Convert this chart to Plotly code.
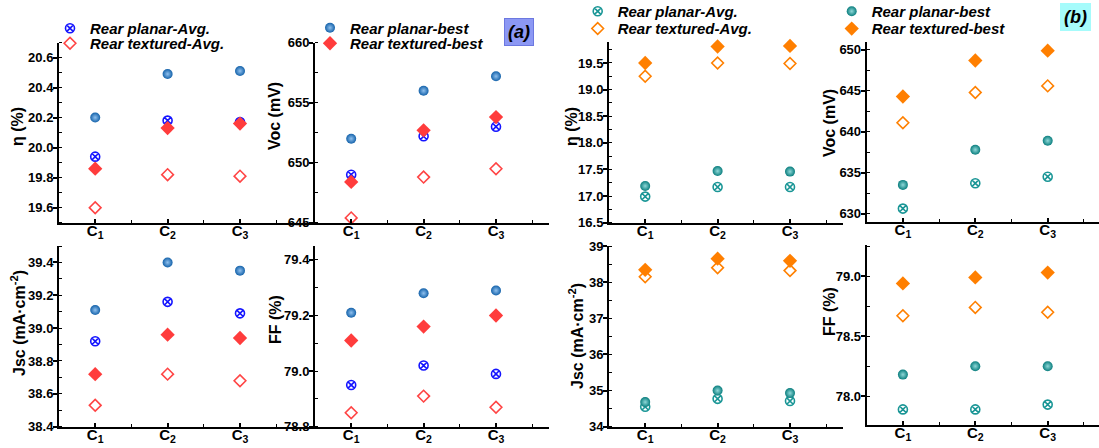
import plotly.graph_objects as go

# ---------------- data ----------------
categories = ["C<sub>1</sub>", "C<sub>2</sub>", "C<sub>3</sub>"]
series_names = ["Rear planar-Avg.", "Rear textured-Avg.", "Rear planar-best", "Rear textured-best"]

# panel (a)
a_eta_planar_avg = [19.94, 20.18, 20.17]
a_eta_textured_avg = [19.60, 19.82, 19.81]
a_eta_planar_best = [20.20, 20.49, 20.51]
a_eta_textured_best = [19.86, 20.13, 20.16]

a_voc_planar_avg = [649.0, 652.2, 653.0]
a_voc_textured_avg = [645.4, 648.8, 649.5]
a_voc_planar_best = [652.0, 656.0, 657.2]
a_voc_textured_best = [648.4, 652.7, 653.8]

a_jsc_planar_avg = [38.92, 39.16, 39.09]
a_jsc_textured_avg = [38.53, 38.72, 38.68]
a_jsc_planar_best = [39.11, 39.40, 39.35]
a_jsc_textured_best = [38.72, 38.96, 38.94]

a_ff_planar_avg = [78.95, 79.02, 78.99]
a_ff_textured_avg = [78.85, 78.91, 78.87]
a_ff_planar_best = [79.21, 79.28, 79.29]
a_ff_textured_best = [79.11, 79.16, 79.20]

# panel (b)
b_eta_planar_avg = [16.99, 17.17, 17.17]
b_eta_textured_avg = [19.25, 19.50, 19.49]
b_eta_planar_best = [17.19, 17.47, 17.46]
b_eta_textured_best = [19.50, 19.81, 19.82]

b_voc_planar_avg = [630.6, 633.7, 634.5]
b_voc_textured_avg = [641.1, 644.8, 645.6]
b_voc_planar_best = [633.5, 637.8, 638.9]
b_voc_textured_best = [644.3, 648.7, 649.9]

b_jsc_planar_avg = [34.55, 34.77, 34.71]
b_jsc_textured_avg = [38.15, 38.40, 38.32]
b_jsc_planar_best = [34.68, 35.00, 34.93]
b_jsc_textured_best = [38.34, 38.65, 38.59]

b_ff_planar_avg = [77.89, 77.89, 77.93]
b_ff_textured_avg = [78.67, 78.74, 78.70]
b_ff_planar_best = [78.18, 78.25, 78.25]
b_ff_textured_best = [78.94, 78.99, 79.03]

# ---------------- layout helpers ----------------
W, H = 1099, 448
FONT = "Arial, Liberation Sans, sans-serif"
CAT_PX = 72.4


def fx(p):
    return p / W


def fy(p):
    return 1 - p / H


x_pos = list(range(1, len(categories) + 1))

styles = {
    "a": [
        dict(symbol="circle-x-open", size=9, color="#1414ff", line=dict(width=1.6, color="#1414ff")),
        dict(symbol="diamond-open", size=9, color="#ff4444", line=dict(width=1.6, color="#ff4444")),
        dict(symbol="circle", size=10, color="#1462aa", line=dict(width=0),
             gradient=dict(type="radial", color="#8fc0ee")),
        dict(symbol="diamond", size=11, color="#ff3c3c", line=dict(width=0)),
    ],
    "b": [
        dict(symbol="circle-x-open", size=9, color="#1a9696", line=dict(width=1.6, color="#1a9696")),
        dict(symbol="diamond-open", size=9, color="#ff8000", line=dict(width=1.6, color="#ff8000")),
        dict(symbol="circle", size=10, color="#0a7e7e", line=dict(width=0),
             gradient=dict(type="radial", color="#8fd8d8")),
        dict(symbol="diamond", size=11, color="#ff7f00", line=dict(width=0)),
    ],
}

# group, x-domain px, y-domain px (top, bottom), yrange, dtick, tick0, minor, fmt, title, title pos px, series
panels = [
    ("a", (59, 315), (42.5, 222.7), (19.5, 20.7), 0.2, 19.6, 0.1, ".1f", "η (%)", (18, 127),
     [a_eta_planar_avg, a_eta_textured_avg, a_eta_planar_best, a_eta_textured_best]),
    ("a", (315, 549), (42.7, 222.7), (645, 660), 5, 645, 2.5, "d", "Voc (mV)", (275, 116),
     [a_voc_planar_avg, a_voc_textured_avg, a_voc_planar_best, a_voc_textured_best]),
    ("a", (59, 315), (246, 426.7), (38.4, 39.5), 0.2, 38.4, 0.1, ".1f", "Jsc (mA·cm<sup>-2</sup>)", (18, 323),
     [a_jsc_planar_avg, a_jsc_textured_avg, a_jsc_planar_best, a_jsc_textured_best]),
    ("a", (315, 549), (246, 426.7), (78.8, 79.45), 0.2, 78.8, 0.1, ".1f", "FF (%)", (275, 320),
     [a_ff_planar_avg, a_ff_textured_avg, a_ff_planar_best, a_ff_textured_best]),
    ("b", (609, 843), (41.7, 222.7), (16.5, 19.9), 0.5, 16.5, 0.25, ".1f", "η (%)", (572, 127),
     [b_eta_planar_avg, b_eta_textured_avg, b_eta_planar_best, b_eta_textured_best]),
    ("b", (866.7, 1099), (41.7, 221.7), (629, 651), 5, 630, 2.5, "d", "Voc (mV)", (830, 123),
     [b_voc_planar_avg, b_voc_textured_avg, b_voc_planar_best, b_voc_textured_best]),
    ("b", (609, 843), (246, 426.7), (34, 39), 1, 34, 0.5, "d", "Jsc (mA·cm<sup>-2</sup>)", (576, 336),
     [b_jsc_planar_avg, b_jsc_textured_avg, b_jsc_planar_best, b_jsc_textured_best]),
    ("b", (866.7, 1099), (245, 425), (77.76, 79.26), 0.5, 78.0, 0.25, ".1f", "FF (%)", (829, 312),
     [b_ff_planar_avg, b_ff_textured_avg, b_ff_planar_best, b_ff_textured_best]),
]

legend_ids = {
    "a": ["legend", "legend2", "legend3", "legend4"],
    "b": ["legend5", "legend6", "legend7", "legend8"],
}
legend_pos = {
    "legend": (70, 28.5), "legend2": (70, 43.5), "legend3": (330, 28.0), "legend4": (330, 43.5),
    "legend5": (597.7, 11.5), "legend6": (597.7, 28.8), "legend7": (851.7, 11.5), "legend8": (851.7, 28.8),
}

fig = go.Figure()
layout = dict(
    width=W, height=H,
    margin=dict(l=0, r=0, t=0, b=0, autoexpand=False),
    paper_bgcolor="white", plot_bgcolor="rgba(0,0,0,0)",
    template="none",
    font=dict(family=FONT, color="black"),
)
annotations = []

shown = set()
for i, (grp, xd, yd, yr, dt, t0, mdt, fmt, title, tpos, data) in enumerate(panels):
    n = i + 1
    xa = "xaxis" if n == 1 else f"xaxis{n}"
    ya = "yaxis" if n == 1 else f"yaxis{n}"
    xref = "x" if n == 1 else f"x{n}"
    yref = "y" if n == 1 else f"y{n}"
    width_px = xd[1] - xd[0]
    layout[xa] = dict(
        domain=[fx(xd[0]), fx(xd[1])], anchor=yref,
        range=[0.5, 0.5 + width_px / CAT_PX],
        tickmode="array", tickvals=x_pos, ticktext=categories,
        ticks="inside", ticklen=4, tickwidth=1.5, tickcolor="black",
        minor=dict(ticks="inside", ticklen=3, tickwidth=1.2, tickcolor="black", dtick=1, tick0=0.5, tickmode="linear"),
        showline=True, linewidth=2, linecolor="black", showgrid=False, zeroline=False,
        tickfont=dict(family=FONT, size=15, weight="bold", color="black"),
        ticklabelstandoff=-7,
        fixedrange=True, automargin=False,
    )
    layout[ya] = dict(
        domain=[fy(yd[1]), fy(yd[0])], anchor=xref,
        range=list(yr), tickmode="linear", dtick=dt, tick0=t0,
        tickformat=fmt,
        ticks="outside", ticklen=4, tickwidth=1.5, tickcolor="black",
        minor=dict(ticks="inside", ticklen=3, tickwidth=1.2, tickcolor="black", dtick=mdt),
        showline=True, linewidth=2, linecolor="black", showgrid=False, zeroline=False,
        tickfont=dict(family=FONT, size=13, weight="bold", color="black"),
        ticklabelstandoff=-3,
        fixedrange=True, automargin=False,
    )
    annotations.append(dict(
        text=f"<b>{title}</b>", x=fx(tpos[0]), y=fy(tpos[1]), xref="paper", yref="paper",
        xanchor="center", yanchor="middle", textangle=-90, showarrow=False,
        font=dict(family=FONT, size=16, color="black"),
    ))
    for k, (vals, name) in enumerate(zip(data, series_names)):
        st = dict(styles[grp][k])
        lg = legend_ids[grp][k]
        show = (grp, k) not in shown
        shown.add((grp, k))
        fig.add_trace(go.Scatter(
            x=x_pos, y=vals, mode="markers", name=name,
            marker=st, xaxis=xref, yaxis=yref,
            legend=lg, showlegend=show, cliponaxis=False,
        ))

for lid, (mx, my) in legend_pos.items():
    layout[lid] = dict(
        x=fx(mx - 20), y=fy(my), xanchor="left", yanchor="middle",
        bgcolor="rgba(0,0,0,0)", borderwidth=0, itemwidth=30,
        font=dict(family=FONT, size=15, weight="bold", style="italic", color="black"),
        itemclick=False, itemdoubleclick=False,
    )

annotations += [
    dict(text="<b><i>(a)</i></b>", x=fx(518.5), y=fy(32), xref="paper", yref="paper",
         xanchor="center", yanchor="middle", showarrow=False,
         font=dict(family=FONT, size=18, color="black"),
         bgcolor="#8c98f4", bordercolor="#6c78e0", borderwidth=1, borderpad=3),
    dict(text="<b><i>(b)</i></b>", x=fx(1075), y=fy(17), xref="paper", yref="paper",
         xanchor="center", yanchor="middle", showarrow=False,
         font=dict(family=FONT, size=18, color="black"),
         bgcolor="#a6fbfb", bordercolor="#a6fbfb", borderwidth=1, borderpad=3),
]
layout["annotations"] = annotations

fig.update_layout(**layout)
fig.write_html("out.html")
